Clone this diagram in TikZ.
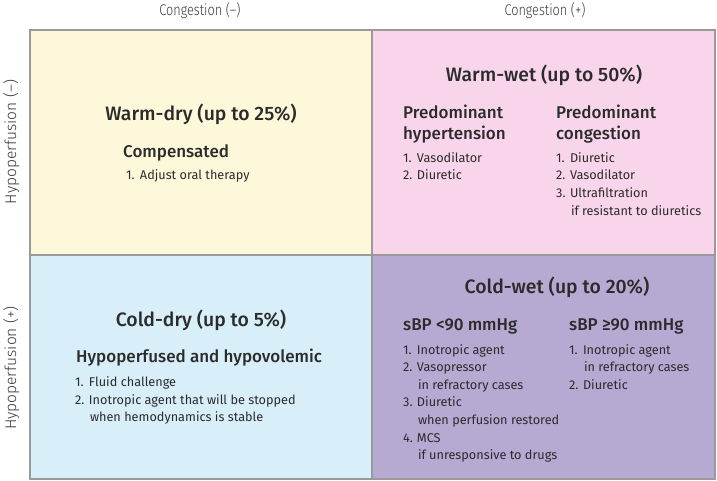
\documentclass[tikz,border=0pt]{standalone}
\usepackage{fontspec}
\setmainfont{Fira Sans}
\newfontfamily\medfont{Fira Sans Medium}
\newfontfamily\lightfont{Fira Sans Light}
\definecolor{ink}{HTML}{2B2B2B}
\definecolor{axisink}{HTML}{3A3A3A}
\definecolor{cyellow}{HTML}{FEF8DB}
\definecolor{cpink}{HTML}{F9D5EC}
\definecolor{cblue}{HTML}{D8EEF9}
\definecolor{cpurple}{HTML}{B6A9D2}
\definecolor{cborder}{HTML}{9A9A9A}
\newcommand\itm[1]{\makebox[13.8bp][l]{#1}}
\newcommand\cont{\hspace*{14.8bp}}
\begin{document}
\begin{tikzpicture}[x=1bp,y=-1bp,
  quad/.style={draw=cborder,line width=1.2bp},
  axis/.style={font=\lightfont\fontsize{15.5bp}{17bp}\selectfont,text=axisink,inner sep=0pt,anchor=base},
  title/.style={font=\medfont\fontsize{19.4bp}{22bp}\selectfont,text=ink,inner sep=0pt,anchor=base},
  head/.style={font=\medfont\fontsize{17bp}{20bp}\selectfont,text=ink,inner sep=0pt,anchor=base west},
  item/.style={font=\fontsize{12.7bp}{15bp}\selectfont,text=ink,inner sep=0pt,anchor=base west}]
\useasboundingbox (0,0) rectangle (717,481);
% quadrants
\path[quad,fill=cyellow] (30,30) rectangle (372,255);
\path[quad,fill=cpink] (372,30) rectangle (715,255);
\path[quad,fill=cblue] (30,255) rectangle (372,479);
\path[quad,fill=cpurple] (372,255) rectangle (715,479);
% axis labels
\node[axis] (cm) at (200,15.5) {\scalebox{0.82}[1]{Congestion (–)}};
\node[axis] (cp) at (545,15.5) {\scalebox{0.82}[1]{Congestion (+)}};
\node[axis,rotate=90] (hm) at (16,142) {Hypoperfusion (–)};
\node[axis,rotate=90] (hp) at (16,368) {Hypoperfusion (+)};
% warm-dry
\node[title] (wdt) at (201,121) {Warm-dry (up to 25\%)};
\node[head] (wdh) at (123,157.3) {Compensated};
\node[item] (wd1) at (126,179.3) {\itm{1.}Adjust oral therapy};
% warm-wet
\node[title] (wwt) at (544,81.7) {Warm-wet (up to 50\%)};
\node[head] (wwh1) at (403,119) {Predominant};
\node[head] (wwh1b) at (403,140) {hypertension};
\node[item] (wwa1) at (403,162.3) {\itm{1.}Vasodilator};
\node[item] (wwa2) at (403,180) {\itm{2.}Diuretic};
\node[head] (wwh2) at (556,119) {Predominant};
\node[head] (wwh2b) at (556,140) {congestion};
\node[item] (wwb1) at (556,162.3) {\itm{1.}Diuretic};
\node[item] (wwb2) at (556,180) {\itm{2.}Vasodilator};
\node[item] (wwb3) at (556,197.7) {\itm{3.}Ultrafiltration};
\node[item] (wwb3b) at (556,215.4) {\cont if resistant to diuretics};
% cold-dry
\node[title] (cdt) at (201,326.7) {Cold-dry (up to 5\%)};
\node[head] (cdh) at (76,362.7) {Hypoperfused and hypovolemic};
\node[item] (cd1) at (75,386.7) {\itm{1.}Fluid challenge};
\node[item] (cd2) at (75,404.2) {\itm{2.}Inotropic agent that will be stopped};
\node[item] (cd2b) at (75,421.5) {\cont when hemodynamics is stable};
% cold-wet
\node[title] (cwt) at (557,293.3) {Cold-wet (up to 20\%)};
\node[head] (cwh1) at (403,330) {sBP <90 mmHg};
\node[head] (cwh2) at (569,330) {sBP ≥90 mmHg};
\node[item] (cwa1) at (403,354) {\itm{1.}Inotropic agent};
\node[item] (cwa2) at (403,371.7) {\itm{2.}Vasopressor};
\node[item] (cwa2b) at (403,389.2) {\cont in refractory cases};
\node[item] (cwa3) at (403,406.9) {\itm{3.}Diuretic};
\node[item] (cwa3b) at (403,424.5) {\cont when perfusion restored};
\node[item] (cwa4) at (403,442.2) {\itm{4.}MCS};
\node[item] (cwa4b) at (403,459.8) {\cont if unresponsive to drugs};
\node[item] (cwb1) at (569,354) {\itm{1.}Inotropic agent};
\node[item] (cwb1b) at (569,371.7) {\cont in refractory cases};
\node[item] (cwb2) at (569,389.2) {\itm{2.}Diuretic};
\end{tikzpicture}
\end{document}
